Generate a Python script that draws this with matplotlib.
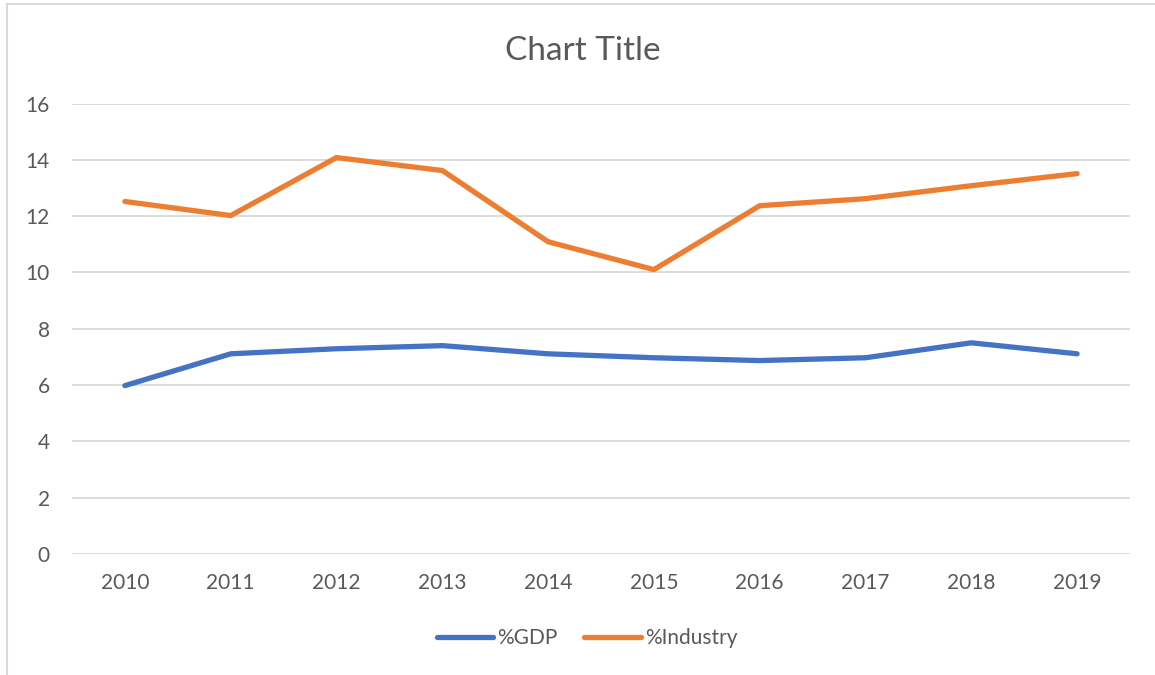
import matplotlib
matplotlib.use("Agg")
import matplotlib.pyplot as plt
from matplotlib.lines import Line2D

years = ["2010", "2011", "2012", "2013", "2014", "2015", "2016", "2017", "2018", "2019"]
gdp = [5.98, 7.11, 7.29, 7.40, 7.11, 6.97, 6.87, 6.97, 7.50, 7.11]
industry = [12.52, 12.02, 14.08, 13.62, 11.09, 10.10, 12.37, 12.62, 13.08, 13.51]
yticks = [0, 2, 4, 6, 8, 10, 12, 14, 16]

plt.rcParams['font.family'] = ['Lato', 'DejaVu Sans']
W, H = 1155, 675
fig = plt.figure(figsize=(W / 100, H / 100), dpi=100)
ax = fig.add_axes([72 / W, 1 - 554 / H, (1130 - 72) / W, (554 - 103.5) / H])

x = list(range(len(years)))
ax.plot(x, gdp, color="#4472C4", lw=3.8, solid_capstyle="round", solid_joinstyle="round", label="%GDP")
ax.plot(x, industry, color="#ED7D31", lw=3.8, solid_capstyle="round", solid_joinstyle="round", label="%Industry")

ax.set_xlim(-0.5, len(years) - 0.5)
ax.set_ylim(0, 16)
ax.set_yticks(yticks)
ax.set_xticks(x)
ax.set_xticklabels(years)
ax.grid(axis="y", color="#D9D9D9", lw=1.3)
ax.set_axisbelow(True)
for s in ax.spines.values():
    s.set_visible(False)
ax.tick_params(axis="both", length=0, labelsize=15, colors="#595959")
ax.tick_params(axis="x", pad=14)
ax.tick_params(axis="y", pad=16)

fig.text(583 / W, 1 - 51 / H, "Chart Title", ha="center", va="center", fontsize=24, color="#595959")

leg = fig.legend(handles=ax.get_lines(), loc="center", bbox_to_anchor=(587 / W, 1 - 638 / H),
                 ncol=2, frameon=False, fontsize=15, labelcolor="#595959",
                 handlelength=2.7, handletextpad=0.2, columnspacing=1.3)

# chart border (partially visible)
fig.add_artist(Line2D([7 / W, 7 / W], [0, 1 - 4 / H], color="#D9D9D9", lw=1.5))
fig.add_artist(Line2D([7 / W, 1], [1 - 4 / H, 1 - 4 / H], color="#D9D9D9", lw=1.5))

fig.savefig("out.png", dpi=100, facecolor="white")
